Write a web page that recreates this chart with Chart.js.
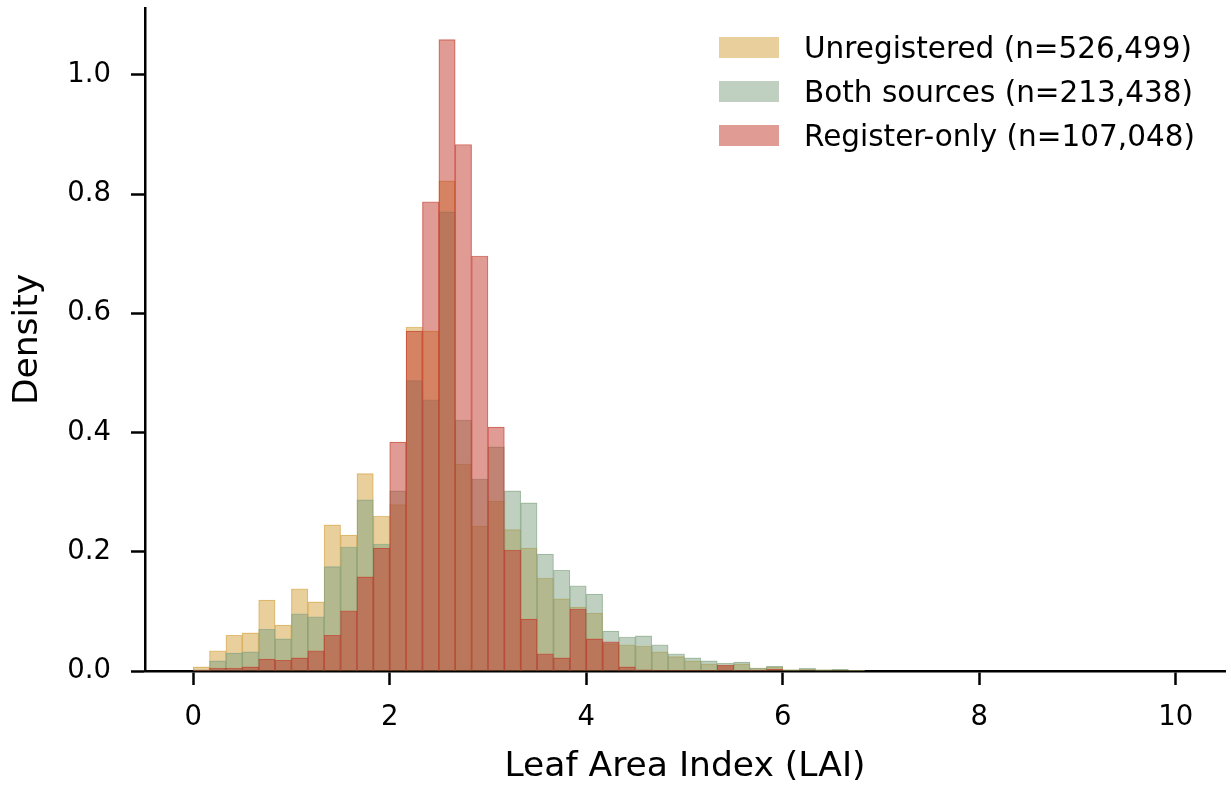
<!DOCTYPE html>
<html lang="en">
<head>
    <title>LAI density by register status</title>
    <script src="https://cdn.jsdelivr.net/npm/chart.js"></script>
    <style>
        body {
            margin: 0;
            background-color: #fff;
        }

        .chart-box {
            width: 1231px;
            height: 785px;
        }
    </style>
</head>
<body>
<div class="chart-box">
    <canvas id="laiChart"></canvas>
</div>

<script>
    // 60 equal-width bins over LAI 0..10
    const binStart = 0;
    const binEnd = 10;
    const binCount = 60;

    const xTicks = [0, 2, 4, 6, 8, 10];
    const yTicks = [0, 0.2, 0.4, 0.6, 0.8, 1.0];

    const seriesNames = [
        'Unregistered (n=526,499)',
        'Both sources (n=213,438)',
        'Register-only (n=107,048)'
    ];

    // density per bin
    const unregistered = [
        0.007, 0.034, 0.060, 0.064, 0.119, 0.077, 0.138, 0.116, 0.245, 0.228,
        0.331, 0.260, 0.279, 0.577, 0.570, 0.822, 0.347, 0.243, 0.285, 0.237,
        0.206, 0.156, 0.121, 0.107, 0.097, 0.046, 0.044, 0.042, 0.032, 0.024,
        0.017, 0.012, 0.009, 0.012, 0.005, 0.007, 0.002, 0.003, 0.002, 0.002,
        0.001, 0, 0, 0, 0, 0, 0, 0, 0, 0,
        0, 0, 0, 0, 0, 0, 0, 0, 0, 0
    ];
    const bothSources = [
        0.002, 0.017, 0.030, 0.032, 0.070, 0.054, 0.096, 0.091, 0.175, 0.208,
        0.287, 0.213, 0.302, 0.487, 0.455, 0.770, 0.421, 0.322, 0.376, 0.302,
        0.282, 0.196, 0.169, 0.143, 0.129, 0.067, 0.057, 0.059, 0.044, 0.029,
        0.022, 0.017, 0.013, 0.015, 0.005, 0.008, 0.002, 0.005, 0.002, 0.003,
        0.001, 0, 0, 0, 0, 0, 0, 0, 0, 0,
        0, 0, 0, 0, 0, 0, 0, 0, 0, 0
    ];
    const registerOnly = [
        0.001, 0.005, 0.005, 0.007, 0.020, 0.018, 0.022, 0.034, 0.060, 0.101,
        0.158, 0.206, 0.384, 0.570, 0.787, 1.059, 0.883, 0.696, 0.409, 0.203,
        0.087, 0.029, 0.022, 0.104, 0.054, 0.049, 0.007, 0.002, 0.001, 0.001,
        0.001, 0.001, 0.010, 0.001, 0.001, 0.003, 0, 0, 0, 0,
        0, 0, 0, 0, 0, 0, 0, 0, 0, 0,
        0, 0, 0, 0, 0, 0, 0, 0, 0, 0
    ];

    const binWidth = (binEnd - binStart) / binCount;
    const binCentres = Array.from({length: binCount}, (_, i) => binStart + (i + 0.5) * binWidth);

    const FONT = 'DejaVu Sans';
    const TICK_SIZE = 27.5;
    const LEGEND_SIZE = 29.5;
    const LABEL_SIZE = 34.5;

    function histSet(label, values, rgb, order) {
        return {
            label: label,
            order: order,
            grouped: false,
            data: values.map((v, i) => ({x: binCentres[i], y: v})),
            backgroundColor: 'rgba(' + rgb + ',0.5)',
            borderColor: 'rgba(' + rgb + ',0.6)',
            borderWidth: {top: 0.5, left: 0.5, right: 0.5, bottom: 0},
            borderSkipped: 'start',
            barPercentage: 1,
            categoryPercentage: 1
        };
    }

    // legend drawn in the top right corner of the plot
    const cornerLegend = {
        id: 'cornerLegend',
        afterDraw(chart) {
            const ctx = chart.ctx;
            const right = chart.chartArea.right;
            ctx.save();
            ctx.font = LEGEND_SIZE + 'px "' + FONT + '"';
            ctx.textBaseline = 'alphabetic';
            chart.data.datasets.forEach((ds, i) => {
                const mid = 47.5 + i * 44;
                ctx.fillStyle = ds.backgroundColor;
                ctx.fillRect(right - 506, mid - 10.5, 60, 21);
                ctx.fillStyle = '#000';
                ctx.fillText(ds.label, right - 421, mid + 10.8);
            });
            ctx.restore();
        }
    };

    new Chart(document.getElementById('laiChart'), {
        type: 'bar',
        data: {
            datasets: [
                histSet(seriesNames[0], unregistered, '211,159,57', 3),
                histSet(seriesNames[1], bothSources, '127,161,129', 2),
                histSet(seriesNames[2], registerOnly, '193,55,41', 1)
            ]
        },
        options: {
            responsive: true,
            maintainAspectRatio: false,
            animation: false,
            layout: {padding: {top: 8, right: 6, left: 0, bottom: 0}},
            plugins: {
                legend: {display: false},
                tooltip: {enabled: false}
            },
            scales: {
                x: {
                    type: 'linear',
                    min: -0.49,
                    max: 10.5,
                    offset: false,
                    afterBuildTicks: s => { s.ticks = xTicks.map(v => ({value: v})); },
                    afterFit: s => {
                        s.height = 114;
                        s.paddingLeft = 0;
                        s.paddingRight = 0;
                    },
                    grid: {
                        display: true,
                        offset: false,
                        drawOnChartArea: false,
                        drawTicks: true,
                        tickLength: 14,
                        tickWidth: 2.5,
                        tickColor: '#000'
                    },
                    border: {display: true, color: '#000', width: 2.5},
                    ticks: {
                        color: '#000',
                        font: {family: FONT, size: TICK_SIZE},
                        padding: 16,
                        maxRotation: 0,
                        autoSkip: false
                    },
                    title: {
                        display: true,
                        text: 'Leaf Area Index (LAI)',
                        color: '#000',
                        font: {family: FONT, size: LABEL_SIZE, lineHeight: 1},
                        padding: {top: 0, bottom: 1}
                    }
                },
                y: {
                    min: 0,
                    max: 1.112,
                    afterBuildTicks: s => { s.ticks = yTicks.map(v => ({value: v})); },
                    afterFit: s => {
                        s.width = 145;
                        s.paddingTop = 0;
                        s.paddingBottom = 0;
                    },
                    grid: {
                        display: true,
                        drawOnChartArea: false,
                        drawTicks: true,
                        tickLength: 14,
                        tickWidth: 2.5,
                        tickColor: '#000'
                    },
                    border: {display: true, color: '#000', width: 2.5},
                    ticks: {
                        color: '#000',
                        font: {family: FONT, size: TICK_SIZE},
                        padding: 20,
                        callback: v => v.toFixed(1)
                    },
                    title: {
                        display: true,
                        text: 'Density',
                        color: '#000',
                        font: {family: FONT, size: LABEL_SIZE, lineHeight: 1},
                        padding: {top: 11, bottom: 0}
                    }
                }
            }
        },
        plugins: [cornerLegend]
    });
</script>
</body>
</html>
